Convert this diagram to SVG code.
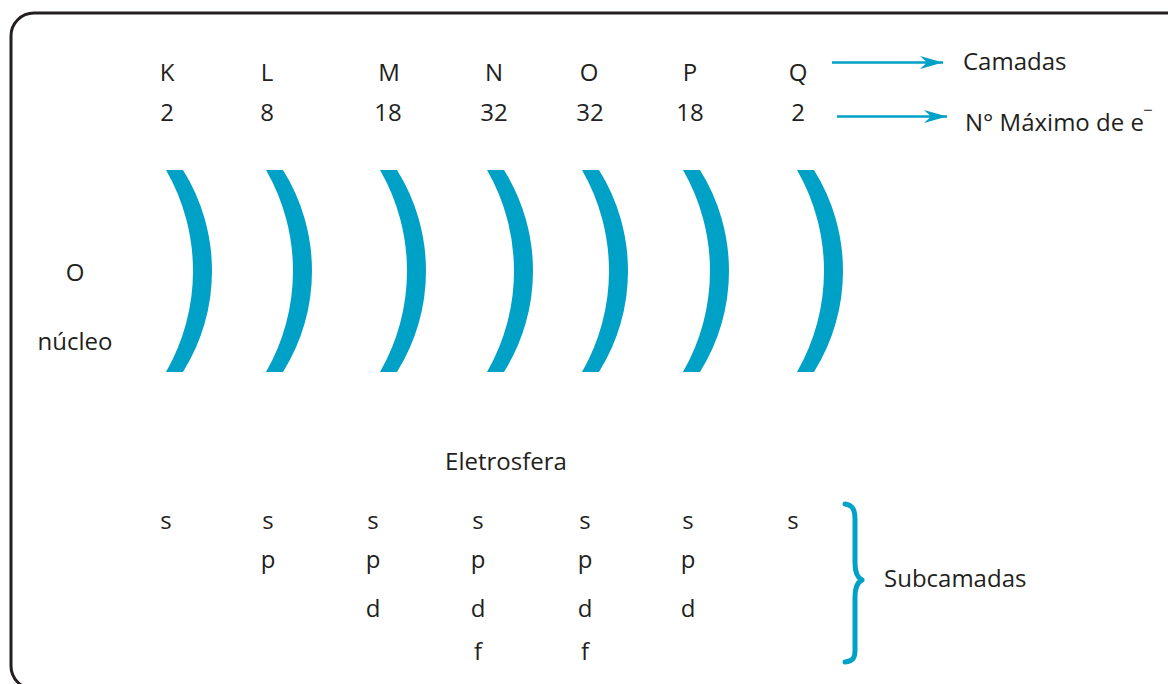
<svg xmlns="http://www.w3.org/2000/svg" width="1168" height="684" viewBox="0 0 1168 684">
  <style>
    .t { font-family: "Open Sans", "Liberation Sans", sans-serif; font-size: 24px; fill: #231f20; }
    .c { text-anchor: middle; }
    .shell { fill: #00a1c6; }
    .arrow { stroke: #00a1c6; stroke-width: 2.5; fill: none; }
    .brace { stroke: #00a1c6; stroke-width: 5; fill: none; stroke-linecap: round; stroke-linejoin: round; }
  </style>
  <defs>
    <!-- crescent-shaped electron shell, drawn with its top-left corner at x=0 -->
    <path id="shell" d="M0,170 L17,170 A190.4,190.4 0 0 1 17,372 L0,372 A202.4,202.4 0 0 0 0,170 Z"/>
    <marker id="head" viewBox="-24 -7 26 14" refX="0" refY="0" markerWidth="26" markerHeight="14" markerUnits="userSpaceOnUse" orient="auto">
      <path d="M0,0 L-23,-6.5 L-16,0 L-23,6.5 Z" fill="#00a1c6"/>
    </marker>
  </defs>

  <rect x="11" y="13" width="1190" height="676" rx="23" ry="23" fill="#ffffff" stroke="#231f20" stroke-width="3"/>

  <!-- nucleus -->
  <g id="nucleo">
    <text class="t c" x="75" y="281">O</text>
    <text class="t c" x="75" y="350">núcleo</text>
  </g>

  <!-- shells with their letter and maximum electron count -->
  <g id="shell-K">
    <text class="t c" x="167" y="81">K</text>
    <text class="t c" x="167" y="121">2</text>
    <use href="#shell" class="shell" x="166"/>
  </g>
  <g id="shell-L">
    <text class="t c" x="267" y="81">L</text>
    <text class="t c" x="267" y="121">8</text>
    <use href="#shell" class="shell" x="266"/>
  </g>
  <g id="shell-M">
    <text class="t c" x="389" y="81">M</text>
    <text class="t c" x="388" y="121">18</text>
    <use href="#shell" class="shell" x="380"/>
  </g>
  <g id="shell-N">
    <text class="t c" x="494" y="81">N</text>
    <text class="t c" x="494" y="121">32</text>
    <use href="#shell" class="shell" x="487"/>
  </g>
  <g id="shell-O">
    <text class="t c" x="589" y="81">O</text>
    <text class="t c" x="590" y="121">32</text>
    <use href="#shell" class="shell" x="582"/>
  </g>
  <g id="shell-P">
    <text class="t c" x="690" y="81">P</text>
    <text class="t c" x="690" y="121">18</text>
    <use href="#shell" class="shell" x="683"/>
  </g>
  <g id="shell-Q">
    <text class="t c" x="798" y="81">Q</text>
    <text class="t c" x="798" y="121">2</text>
    <use href="#shell" class="shell" x="797"/>
  </g>

  <g id="eletrosfera">
    <text class="t c" x="506" y="470">Eletrosfera</text>
  </g>

  <!-- subshells per shell -->
  <g id="subcamadas-cols" class="t c">
    <text class="t c" x="166" y="529">s</text>
    <text class="t c" x="268" y="529">s</text>
    <text class="t c" x="268" y="568">p</text>
    <text class="t c" x="373" y="529">s</text>
    <text class="t c" x="373" y="568">p</text>
    <text class="t c" x="373" y="617">d</text>
    <text class="t c" x="478" y="529">s</text>
    <text class="t c" x="478" y="568">p</text>
    <text class="t c" x="478" y="617">d</text>
    <text class="t c" x="478" y="660">f</text>
    <text class="t c" x="585" y="529">s</text>
    <text class="t c" x="585" y="568">p</text>
    <text class="t c" x="585" y="617">d</text>
    <text class="t c" x="585" y="660">f</text>
    <text class="t c" x="688" y="529">s</text>
    <text class="t c" x="688" y="568">p</text>
    <text class="t c" x="688" y="617">d</text>
    <text class="t c" x="793" y="529">s</text>
  </g>

  <!-- legend labels -->
  <g id="label-camadas">
    <text class="t" x="963" y="70">Camadas</text>
  </g>
  <g id="label-max">
    <text class="t" x="965" y="131">N° Máximo de e<tspan font-size="17" dx="-1" dy="-15">−</tspan></text>
  </g>
  <g id="label-subcamadas">
    <text class="t" x="884" y="587">Subcamadas</text>
  </g>

  <!-- connectors -->
  <g id="connectors">
    <line class="arrow" x1="832" y1="62.5" x2="943" y2="62.5" marker-end="url(#head)"/>
    <line class="arrow" x1="837" y1="116.5" x2="947" y2="116.5" marker-end="url(#head)"/>
    <path class="brace" d="M845,504 C853,505 855,510 855,520 L855,563 C855,574 858,578 862,580 C858,582 855,586 855,597 L855,650 C855,658 853,661 845,662"/>
  </g>
</svg>
